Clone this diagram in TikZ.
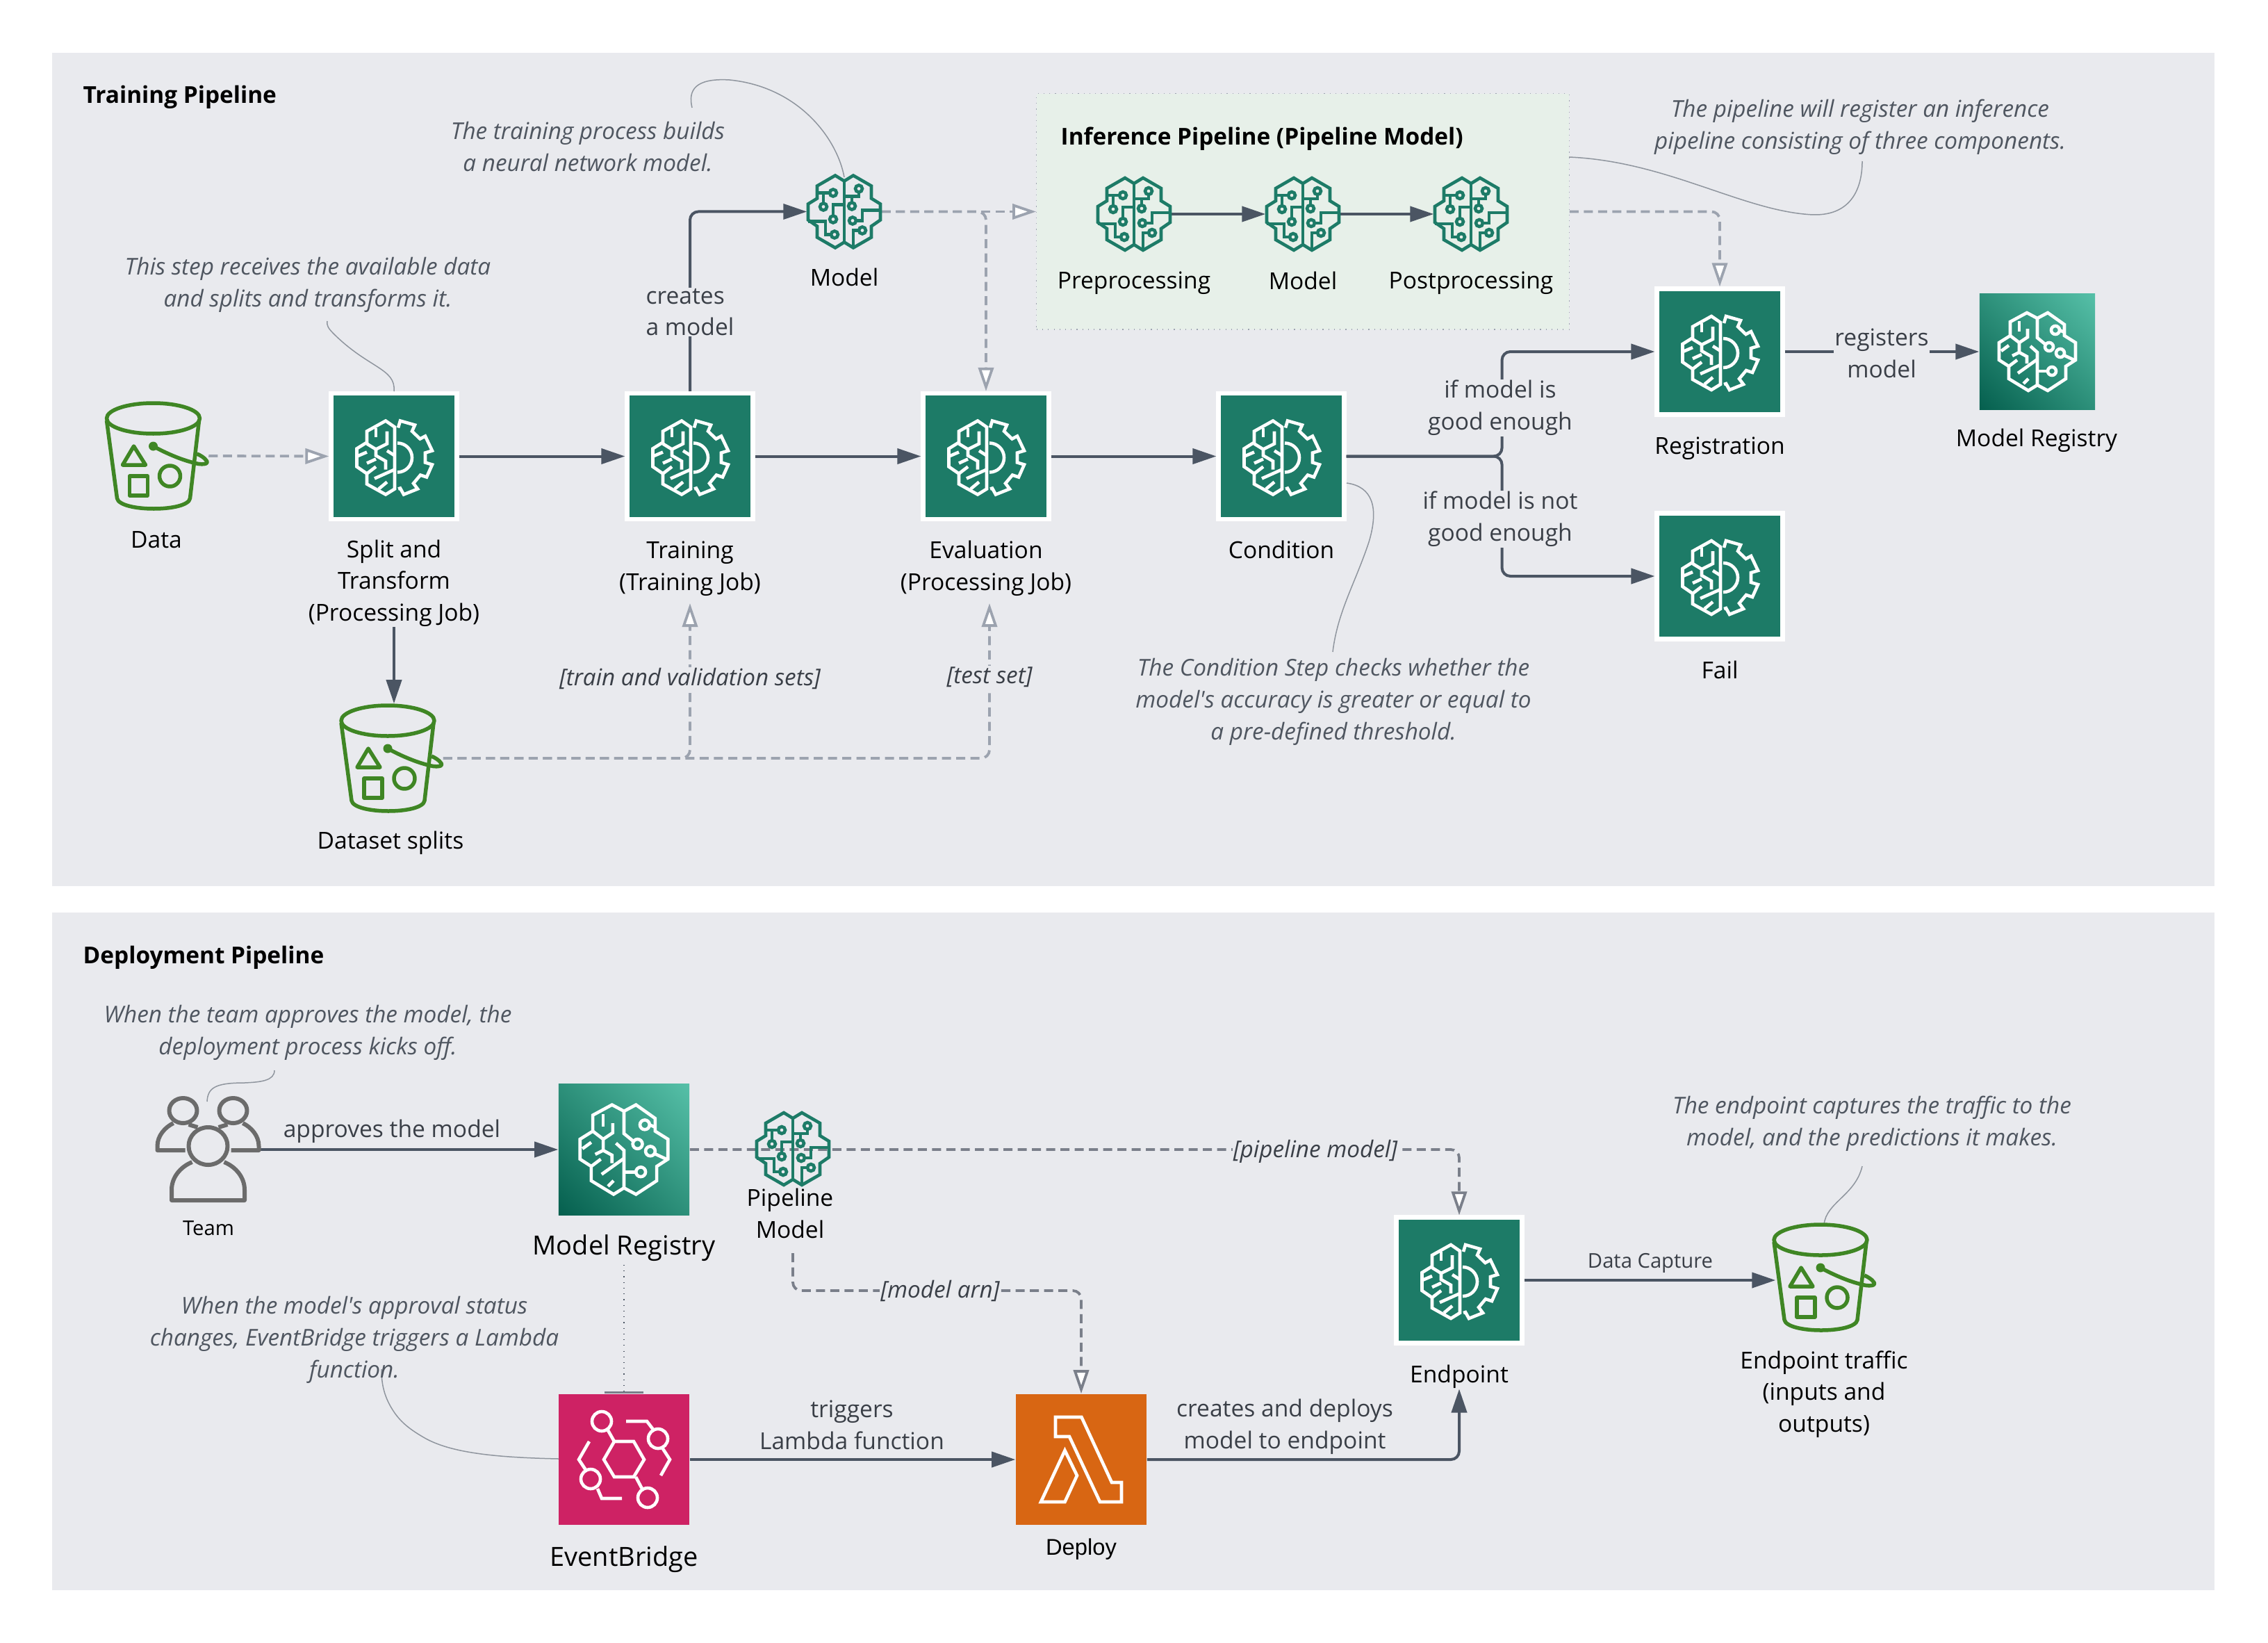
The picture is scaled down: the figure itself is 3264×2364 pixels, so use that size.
\documentclass[tikz,border=0pt]{standalone}
\usepackage{fontspec}
\setmainfont{Open Sans}
\newfontfamily\plainface{Open Sans}
\newfontfamily\deployfont{Liberation Sans}
\usetikzlibrary{arrows.meta,shadings}

\definecolor{panelgray}{HTML}{E9EAEE}
\definecolor{infergreen}{HTML}{E7F0E9}
\definecolor{boxgreen}{HTML}{1D7B67}
\definecolor{linedark}{HTML}{4B5563}
\definecolor{linemid}{HTML}{7A7F8A}
\definecolor{linegray}{HTML}{9CA3AF}
\definecolor{calloutgray}{HTML}{8F959E}
\definecolor{bucketgreen}{HTML}{3F8624}
\definecolor{teamgray}{HTML}{6B6B6B}
\definecolor{ebpink}{HTML}{CE2264}
\definecolor{lambdaorange}{HTML}{D86613}
\definecolor{notegray}{HTML}{4F5660}
\definecolor{textdark}{HTML}{3A3F47}
\definecolor{regdark}{HTML}{055F4E}
\definecolor{reglight}{HTML}{56C0A8}
\definecolor{regmid}{HTML}{2D907A}

\tikzset{
	stepbox/.style={draw=white,line width=0.065cm,fill=boxgreen,minimum size=1.805cm,inner sep=0},
	regbox/.style={minimum size=#1,inner sep=0,lower left=regdark,upper right=reglight,upper left=regmid,lower right=regmid},
	plainbox/.style={minimum size=1.88cm,inner sep=0,fill=#1},
	spot/.style={minimum size=1.06cm,inner sep=0},
	lbl/.style={align=center,text=black,inner sep=0,font=\fontsize{9.55}{13}\selectfont},
	biglbl/.style={lbl,font=\fontsize{10.8}{15}\selectfont},
	smalllbl/.style={lbl,font=\fontsize{8.3}{13}\selectfont},
	head/.style={lbl,anchor=west,font=\fontsize{9.5}{13}\selectfont\bfseries},
	note/.style={lbl,text=notegray,font=\plainface\fontsize{9.47}{13}\selectfont\itshape},
	edgelbl/.style={lbl,text=textdark,fill=panelgray,inner sep=0.01cm},
	edgenote/.style={note,text=textdark,fill=panelgray,inner sep=0.01cm},
	conn/.style={line width=0.04cm,draw=linedark,rounded corners=0.12cm,-{Triangle[length=0.34cm,width=0.22cm,fill=linedark]}},
	flow/.style={line width=0.038cm,draw=linegray,rounded corners=0.12cm,dash pattern=on 0.13cm off 0.075cm,-{Triangle[open,length=0.34cm,width=0.22cm,fill=white]}},
	flowdark/.style={flow,draw=linemid},
	callout/.style={line width=0.015cm,draw=calloutgray},
	brainpen/.style={line width=0.046cm,draw=#1},
	brainpen/.default=white,
	% gear and half a brain, white on the box
	gearicon/.pic={
		\draw[brainpen] (1,-42) -- (-12,-51) -- (-39,-36) -- (-39,-20) -- (-53.5,-11) -- (-53.5,15) -- (-39,25) -- (-39,40) -- (-12,55) -- (1,47) -- cycle;
		\draw[brainpen] (-26,-41) -- (-26,-28);
		\draw[brainpen] (-10,-36) -- (-10,-18) -- (-26,-10);
		\draw[brainpen] (-39,-18) -- (-26,-10) -- (-26,-1) -- (-12,7) -- (-12,19);
		\draw[brainpen] (-53,0) -- (-39,-6);
		\draw[brainpen] (-39,10) -- (-26,4);
		\draw[brainpen] (-10,-8) -- (1,-1);
		\draw[brainpen] (-39,25) -- (-26,15);
		\draw[brainpen] (-28,32) -- (1,19);
		\draw[brainpen] (-22,47) -- (-10,37);
		\draw[brainpen] (5,-19) arc[start angle=-90,end angle=90,radius=21];
		\draw[brainpen] (6,-41) -- (9,-51) -- (30,-45) -- (26,-36) -- (37.5,-25) -- (45,-29) -- (55,-8) -- (45,-5) -- (45,9) -- (55,12) -- (47,30) -- (38,27) -- (28,39) -- (34,47) -- (14,55) -- (9,46) -- (6,47);
	},
	% whole brain made of circuits
	circuiticon/.pic={
		\draw[brainpen=boxgreen] (0,-44) -- (-13,-52) -- (-39,-37) -- (-39,-19) -- (-52,-11) -- (-52,12) -- (-39,21) -- (-39,37) -- (-13,52) -- (0,44) -- (13,52) -- (39,37) -- (39,21) -- (52,12) -- (52,-11) -- (39,-19) -- (39,-37) -- (13,-52) -- cycle;
		\draw[brainpen=boxgreen] (0,-44) -- (0,44);
		\draw[brainpen=boxgreen] (-37,-27) -- (-21,-27);
		\draw[brainpen=boxgreen] (-30,-27) -- (-30,-12);
		\draw[brainpen=boxgreen] (0,-10) -- (-16,-10) -- (-16,6);
		\draw[brainpen=boxgreen] (-52,14) -- (-27,14) -- (-27,33) -- (-19,33);
		\draw[brainpen=boxgreen] (0,-22) -- (21,-22) -- (21,-28);
		\draw[brainpen=boxgreen] (11,-22) -- (11,-13);
		\draw[brainpen=boxgreen] (52,-2) -- (26,-2) -- (26,13) -- (17,13);
		\draw[brainpen=boxgreen] (13,51) -- (13,27) -- (21,27);
		\draw[brainpen=boxgreen] (-16,-27) circle[radius=5];
		\draw[brainpen=boxgreen] (-30,-7) circle[radius=5];
		\draw[brainpen=boxgreen] (-16,11) circle[radius=5];
		\draw[brainpen=boxgreen] (-14,33) circle[radius=5];
		\draw[brainpen=boxgreen] (21,-33) circle[radius=5];
		\draw[brainpen=boxgreen] (11,-8) circle[radius=5];
		\draw[brainpen=boxgreen] (12,13) circle[radius=5];
		\draw[brainpen=boxgreen] (26,27) circle[radius=5];
	},
	% half brain, half circuits
	registryicon/.pic={
		\draw[brainpen] (0,-48) -- (-15,-56) -- (-39,-43) -- (-39,-23) -- (-55,-13) -- (-55,12) -- (-41,21) -- (-41,39) -- (-13,56) -- (0,48) -- (15,56) -- (41,39) -- (41,21) -- (55,12) -- (55,-13) -- (39,-23) -- (39,-39) -- (15,-56) -- cycle;
		\draw[brainpen] (0,-48) -- (0,-20) -- (11,-11);
		\draw[brainpen] (-10,-8) -- (0,1) -- (0,48);
		\draw[brainpen] (0,28) -- (15,28);
		\draw[brainpen] (39,-28) -- (32,-31);
		\draw[brainpen] (38,5) -- (53,12);
		\draw[brainpen] (-26,-44) -- (-26,-29);
		\draw[brainpen] (-14,-33) -- (-14,-21) -- (-26,-13);
		\draw[brainpen] (-39,-23) -- (-26,-13) -- (-26,1) -- (-15,7) -- (-15,17);
		\draw[brainpen] (-52,-1) -- (-41,-9);
		\draw[brainpen] (-36,6) -- (-26,1);
		\draw[brainpen] (-41,21) -- (-29,12);
		\draw[brainpen] (-28,31) -- (0,11);
		\draw[brainpen] (-20,46) -- (-13,39);
		\draw[brainpen] (17,-7) circle[radius=6];
		\draw[brainpen] (26,-31) circle[radius=6];
		\draw[brainpen] (33,2) circle[radius=6];
		\draw[brainpen] (21,28) circle[radius=6];
	},
	bucketicon/.pic={
		\begin{scope}[line width=0.055cm,draw=bucketgreen,line join=round]
		\draw (0,-54) ellipse[x radius=67,y radius=22];
		\draw (-67,-51) -- (-52,61) .. controls (-48,81) and (50,81) .. (53,61) -- (66,-51);
		\draw (0,-14) .. controls (20,-3) and (40,5) .. (55,9) .. controls (70,14) and (82,12) .. (76,6) .. controls (74,3) and (68,-1) .. (63,-3);
		\fill[bucketgreen] (0,-14) circle[radius=6.5];
		\draw (-28,-14) -- (-44,13) -- (-11,13) -- cycle;
		\draw (-34,29) rectangle (-8,57);
		\draw (24,29) circle[radius=15];
		\end{scope}
	},
	teamicon/.pic={
		\begin{scope}[line width=0.06cm,draw=teamgray,line join=round]
		\draw (0,-5) ellipse[x radius=28,y radius=27];
		\draw (-23,18) .. controls (-40,25) and (-52.5,40) .. (-52.5,58) -- (-52.5,73) -- (52.5,73) -- (52.5,58) .. controls (52.5,40) and (40,25) .. (23,18);
		\draw (-36,-56) ellipse[x radius=20,y radius=18];
		\draw (36,-56) ellipse[x radius=20,y radius=18];
		\draw (-33,1) -- (-73,1) -- (-73,-5) .. controls (-73,-20) and (-62,-32) .. (-50,-38);
		\draw (33,1) -- (73,1) -- (73,-5) .. controls (73,-20) and (62,-32) .. (50,-38);
		\draw (-28,-36) -- (-15,-32);
		\draw (28,-36) -- (15,-32);
		\end{scope}
	},
	lambdaicon/.pic={
		\draw[brainpen] (-37,-61) -- (0.5,-61) -- (44,33) -- (58,33) -- (58,61) -- (27,61) -- (-17,-33) -- (-37,-33) -- cycle;
		\draw[brainpen] (-23.5,-13) -- (-6,23) -- (-23.5,61) -- (-58,61) -- cycle;
	},
	bridgeicon/.pic={
		\draw[brainpen] (-29,0) -- (-14,-26) -- (14,-26) -- (29,0) -- (14,25) -- (-14,25) -- cycle;
		\draw[brainpen] (-32,-55) circle[radius=14];
		\draw[brainpen] (-23,-42) -- (-14,-26);
		\draw[brainpen] (34,55) circle[radius=14];
		\draw[brainpen] (17,25) -- (26,42);
		\draw[brainpen] (3,-55) -- (33,-55) -- (43,-42);
		\draw[brainpen] (49,-30) circle[radius=14];
		\draw[brainpen] (55,-17) -- (66,0) -- (53,23);
		\draw[brainpen] (-50,-26) -- (-65,0) -- (-55,15);
		\draw[brainpen] (-48,28) circle[radius=14];
		\draw[brainpen] (-38,42) -- (-32,56) -- (-3,56);
	}
}

\begin{document}
\begin{tikzpicture}[x=0.01cm,y=-0.01cm]
\useasboundingbox (0,0) rectangle (3264,2364);
\fill[white] (0,0) rectangle (3264,2364);
\fill[panelgray] (75,76) rectangle (3187,1275);
\fill[panelgray] (75,1313) rectangle (3187,2288);

\node (inference) at (1875,304.5) [minimum width=7.66cm,minimum height=3.39cm,fill=infergreen,draw=linegray,dotted,line width=0.012cm] {};

% training row
\node (data) at (224.5,656) [minimum width=1.5cm,minimum height=1.56cm,inner sep=0] {};
\node (split) at (567,656.5) [stepbox] {};
\node (training) at (993,656.5) [stepbox] {};
\node (evaluation) at (1419,656.5) [stepbox] {};
\node (condition) at (1844,656.5) [stepbox] {};
\node (registration) at (2475,506) [stepbox] {};
\node (fail) at (2475,829) [stepbox] {};
\node (registry) at (2932,506) [regbox=1.66cm] {};
\node (model) at (1215,304.5) [spot] {};
\node (pre) at (1632,308) [spot] {};
\node (inner) at (1875,308) [spot] {};
\node (post) at (2117,308) [spot] {};
\node (splits) at (562,1091) [minimum width=1.5cm,minimum height=1.56cm,inner sep=0] {};

% deployment row
\node (team) at (299.5,1654) [minimum width=1.5cm,minimum height=1.5cm,inner sep=0] {};
\node (deployreg) at (898,1654) [regbox=1.88cm] {};
\node (pipemodel) at (1141,1653) [spot] {};
\node (bridge) at (898,2100) [plainbox=ebpink] {};
\node (deploy) at (1556,2100) [plainbox=lambdaorange] {};
\node (endpoint) at (2100,1842) [stepbox] {};
\node (traffic) at (2631,1842) [minimum width=1.5cm,minimum height=1.56cm,inner sep=0] {};

% labels
\node (datalbl) at (225,777) [lbl] {Data};
\node (splitlbl) at (567,839) [lbl] {Split and\\Transform\\(Processing Job)};
\node (trainlbl) at (993,818) [lbl] {Training\\(Training Job)};
\node (evallbl) at (1419,818) [lbl] {Evaluation\\(Processing Job)};
\node (condlbl) at (1844,791) [lbl] {Condition};
\node (reglbl) at (2475,645) [lbl] {Registration};
\node (faillbl) at (2475,964) [lbl] {Fail};
\node (registrylbl) at (2931,634) [lbl] {Model Registry};
\node (modellbl) at (1215,399) [lbl] {Model};
\node (prelbl) at (1632,407) [lbl] {Preprocessing};
\node (innerlbl) at (1875,404) [lbl] {Model};
\node (postlbl) at (2117,407) [lbl] {Postprocessing};
\node (splitslbl) at (562,1213) [lbl] {Dataset splits};
\node (teamlbl) at (300,1767) [smalllbl] {Team};
\node (deployreglbl) at (898,1796) [biglbl] {Model Registry};
\node (pipelbl) at (1137,1746) [lbl] {Pipeline\\Model};
\node (bridgelbl) at (898,2244) [biglbl] {EventBridge};
\node (deploylbl) at (1556,2229) [lbl,font=\deployfont\fontsize{9.3}{13}\selectfont] {Deploy};
\node (endpointlbl) at (2100,1981) [lbl] {Endpoint};
\node (trafficlbl) at (2625,2006) [lbl] {Endpoint traffic\\(inputs and\\outputs)};

\coordinate (traintip) at (993,868);
\coordinate (evaltip) at (1424,868);
\coordinate (pipestart) at (1141,1803);
\coordinate (arnbend) at (1353,1857);
\coordinate (dottedstart) at (898,1820);

% connectors
\draw[conn] (split.east) -- (training.west);
\draw[conn] (training.east) -- (evaluation.west);
\draw[conn] (evaluation.east) -- (condition.west);
\draw[conn] (training.north) |- (model.west);
\draw[conn] (condition.east) -- ++(224,0) |- (registration.west);
\draw[conn] (condition.east) -- ++(224,0) |- (fail.west);
\draw[conn] (registration.east) -- (registry.west);
\draw[conn] (pre.east) -- (inner.west);
\draw[conn] (inner.east) -- (post.west);
\draw[conn] (splitlbl.south) -- (splitlbl.south |- splits.north);
\draw[flow] (data.east) -- (split.west);
\draw[flow] (model.east) -- (inference.west);
\draw[flow] (model.east) -| (evaluation.north);
\draw[flow] (inference.east) -| (registration.north);
\draw[flow] (splits.east) -| (traintip);
\draw[flow] (splits.east) -| (evaltip);
\draw[conn] (team.east) -- (deployreg.west);
\draw[flowdark] (deployreg.east) -| (endpoint.north);
\draw[flowdark] (pipestart) |- (arnbend) -| (deploy.north);
\draw[line width=0.012cm,draw=linedark,dotted] (dottedstart) -- (bridge.north);
\draw[line width=0.03cm,draw=linemid,{Bar[width=0.56cm]}-] (bridge.north) -- ++(0,-1);
\draw[conn] (bridge.east) -- (deploy.west);
\draw[conn] (deploy.east) -| (endpointlbl.south);
\draw[conn] (endpoint.east) -- (traffic.west);

% callouts
\draw[callout] (567,563) .. controls (570,530) and (530,530) .. (480,480) .. controls (472,472) and (470,468) .. (471,462);
\draw[callout] (1215,255) .. controls (1205,200) and (1150,125) .. (1050,115) .. controls (1000,112) and (990,130) .. (996,155);
\draw[callout] (2258,226) .. controls (2400,232) and (2510,305) .. (2610,309) .. controls (2665,310) and (2680,270) .. (2680,232);
\draw[callout] (1938,695) .. controls (1975,700) and (1985,730) .. (1970,780) .. controls (1950,840) and (1925,880) .. (1918,938);
\draw[callout] (298,1585) .. controls (299,1565) and (310,1558) .. (352,1558) .. controls (375,1557) and (395,1555) .. (395,1540);
\draw[callout] (804,2099) .. controls (710,2097) and (650,2090) .. (613,2070) .. controls (590,2057) and (578,2047) .. (568,2033) .. controls (552,2010) and (549,1990) .. (549,1970);
\draw[callout] (2625,1762) .. controls (2628,1730) and (2670,1720) .. (2680,1678);

% text over the connectors
\node at (993,449) [edgelbl,align=left] {creates\\a model};
\node at (2159,587) [edgelbl] {if model is\\good enough};
\node at (2159,747) [edgelbl] {if model is not\\good enough};
\node at (2708,508) [edgelbl] {registers\\model};
\node at (564,1628) [lbl,text=textdark] {approves the model};
\node at (1226,2050) [lbl,text=textdark] {triggers\\Lambda function};
\node at (1849,2053) [lbl,text=textdark] {creates and deploys\\model to endpoint};
\node at (2375,1817) [smalllbl,text=textdark] {Data Capture};
\node at (993,976) [edgenote] {[train and validation sets]};
\node at (1424,974) [edgenote] {[test set]};
\node at (1893,1657) [edgenote] {[pipeline model]};
\node at (arnbend) [edgenote] {[model arn]};

\node at (119,140) [head] {Training Pipeline};
\node at (119,1378) [head] {Deployment Pipeline};
\node at (1526,200) [head] {Inference Pipeline (Pipeline Model)};
\node at (846,211) [note] {The training process builds\\a neural network model.};
\node at (443,410) [note] {This step receives the available data\\and splits and transforms it.};
\node at (2677,183) [note] {The pipeline will register an inference\\pipeline consisting of three components.};
\node at (1919,1010) [note] {The Condition Step checks whether the\\model's accuracy is greater or equal to\\a pre-defined threshold.};
\node at (443,1486) [note] {When the team approves the model, the\\deployment process kicks off.};
\node at (510,1928) [note] {When the model's approval status\\changes, EventBridge triggers a Lambda\\function.};
\node at (2694,1617) [note] {The endpoint captures the traffic to the\\model, and the predictions it makes.};

% icons
\pic at (220.5,656) {bucketicon};
\pic at (558,1091) {bucketicon};
\pic at (2620,1838) {bucketicon};
\pic at (split) {gearicon};
\pic at (training) {gearicon};
\pic at (evaluation) {gearicon};
\pic at (condition) {gearicon};
\pic at (registration) {gearicon};
\pic at (fail) {gearicon};
\pic at (endpoint) {gearicon};
\pic at (model) {circuiticon};
\pic at (pre) {circuiticon};
\pic at (inner) {circuiticon};
\pic at (post) {circuiticon};
\pic at (pipemodel) {circuiticon};
\pic at (registry) {registryicon};
\pic[scale=1.15] at (deployreg) {registryicon};
\pic at (team) {teamicon};
\pic at (bridge) {bridgeicon};
\pic at (deploy) {lambdaicon};
\end{tikzpicture}
\end{document}
